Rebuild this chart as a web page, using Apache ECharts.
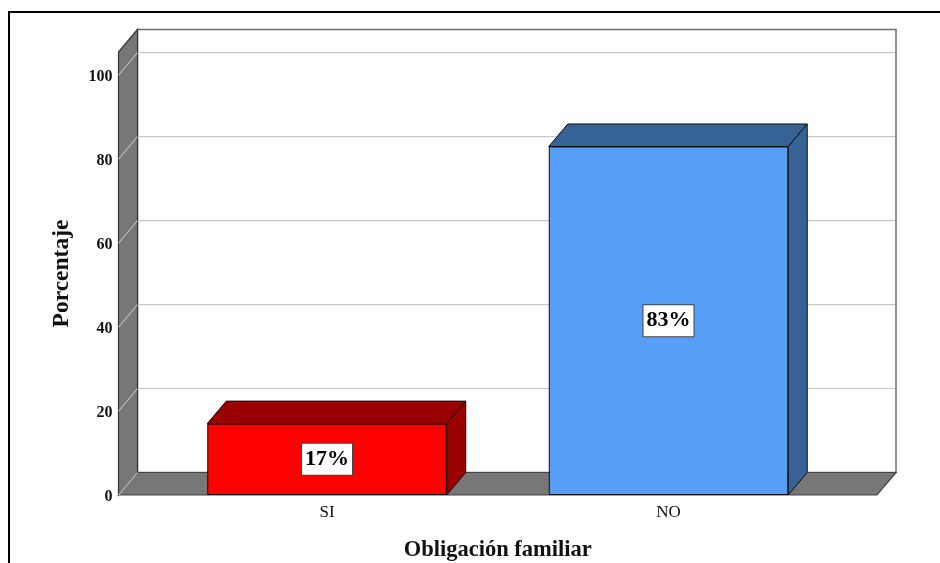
<!DOCTYPE html>
<html><head><meta charset="utf-8">
<style>html,body{margin:0;padding:0;background:#fff}#c{width:940px;height:563px}</style>
<script src="https://cdn.jsdelivr.net/npm/echarts@6/dist/echarts.min.js"></script>
</head><body><div id="c"></div>
<script>
const categories = ['SI', 'NO'];
const values = [17, 83];
const percentLabels = ['17%', '83%'];
const yTicks = [0, 20, 40, 60, 80, 100];
const frontColors = ['#ff0000', '#579ef6'];
const depthColors = ['#990000', '#376296'];

const FONT = '"Liberation Serif", serif';
const DX = 19, DY = 22.5, BAR_W = 239.5, FLOOR_INSET = 37.75;

function poly(points, fill, stroke, lineWidth) {
  return { type: 'polygon', shape: { points },
    style: { fill, stroke: stroke || 'none', lineWidth: lineWidth || 1 } };
}
function line(x1, y1, x2, y2, color, w) {
  return { type: 'line', shape: { x1, y1, x2, y2 }, style: { stroke: color, lineWidth: w || 1.2 } };
}

function renderWalls(params, api) {
  const cs = params.coordSys;
  const l = cs.x - FLOOR_INSET, r = cs.x + cs.width + FLOOR_INSET;
  const b = cs.y + cs.height, t = cs.y;
  const children = [
    poly([[l + DX, t - DY], [r + DX, t - DY], [r + DX, b - DY], [l + DX, b - DY]], '#ffffff', '#6e6e6e', 1.5),
    poly([[l, b], [l + DX, b - DY], [l + DX, t - DY], [l, t]], '#777777', '#333333', 1.2),
    poly([[l, b], [r, b], [r + DX, b - DY], [l + DX, b - DY]], '#777777', '#444444', 1.2)
  ];
  yTicks.forEach(v => {
    const y = api.coord([0, v])[1];
    children.push(line(l, y, l + DX, y - DY, '#b8b8b8'));
    if (v > 0) children.push(line(l + DX + 1, y - DY, r + DX - 1, y - DY, '#c8c8c8'));
  });
  return { type: 'group', children };
}

function renderDepth(params, api) {
  const i = api.value(0);
  const p = api.coord([i, api.value(1)]);
  const base = api.coord([i, 0]);
  const xl = p[0] - BAR_W / 2, xr = p[0] + BAR_W / 2, yt = p[1], yb = base[1];
  const fill = depthColors[i], st = '#111111';
  return { type: 'group', children: [
    poly([[xl, yt], [xl + DX, yt - DY], [xr + DX, yt - DY], [xr, yt]], fill, st, 1),
    poly([[xr, yt], [xr + DX, yt - DY], [xr + DX, yb - DY], [xr, yb]], fill, st, 1)
  ] };
}

const chart = echarts.init(document.getElementById('c'), null, { renderer: 'canvas' });
chart.setOption({
  backgroundColor: '#ffffff',
  animation: false,
  grid: { left: 156.25, right: 100.75, top: 52, bottom: 68, containLabel: false, outerBoundsMode: 'none' },
  xAxis: {
    type: 'category', data: categories,
    axisLine: { show: false }, axisTick: { show: false }, splitLine: { show: false },
    axisLabel: { fontFamily: FONT, fontSize: 17, color: '#111', margin: 9 },
    name: 'Obligación familiar', nameLocation: 'middle', nameGap: 44,
    nameTextStyle: { fontFamily: FONT, fontSize: 22.5, fontWeight: 'bold', color: '#111' }
  },
  yAxis: {
    type: 'value', min: 0, max: 105.5, interval: 20, offset: 37.75,
    axisLine: { show: false }, axisTick: { show: false }, splitLine: { show: false },
    axisLabel: {
      margin: 6, showMaxLabel: false, formatter: '{t|{value}}',
      rich: { t: { fontFamily: FONT, fontSize: 16, fontWeight: 'bold', color: '#111', padding: [4, 0, 0, 0] } }
    },
    name: 'Porcentaje', nameLocation: 'middle', nameGap: 45,
    nameTextStyle: { fontFamily: FONT, fontSize: 23.5, fontWeight: 'bold', color: '#111' }
  },
  graphic: [{
    type: 'polyline', silent: true, z: 100,
    shape: { points: [[9, 563], [9, 12], [940, 12]] },
    style: { fill: 'none', stroke: '#000', lineWidth: 2 }
  }],
  series: [
    { type: 'custom', name: 'walls', data: [[0]], renderItem: renderWalls, z: 1, silent: true, tooltip: { show: false } },
    {
      type: 'bar', name: 'Porcentaje', barWidth: BAR_W, z: 3,
      data: values.map((v, i) => ({ value: v, itemStyle: { color: frontColors[i] } })),
      itemStyle: { borderColor: '#111', borderWidth: 1 },
      label: {
        show: true, position: 'inside', formatter: p => percentLabels[p.dataIndex],
        fontFamily: FONT, fontSize: 22, fontWeight: 'bold', color: '#000',
        backgroundColor: '#fff', borderColor: '#444', borderWidth: 1, padding: [6, 3, 3, 3]
      }
    },
    { type: 'custom', name: 'depth', data: values.map((v, i) => [i, v]), renderItem: renderDepth, z: 4,
      encode: { x: 0, y: 1 }, silent: true }
  ]
});
</script></body></html>
